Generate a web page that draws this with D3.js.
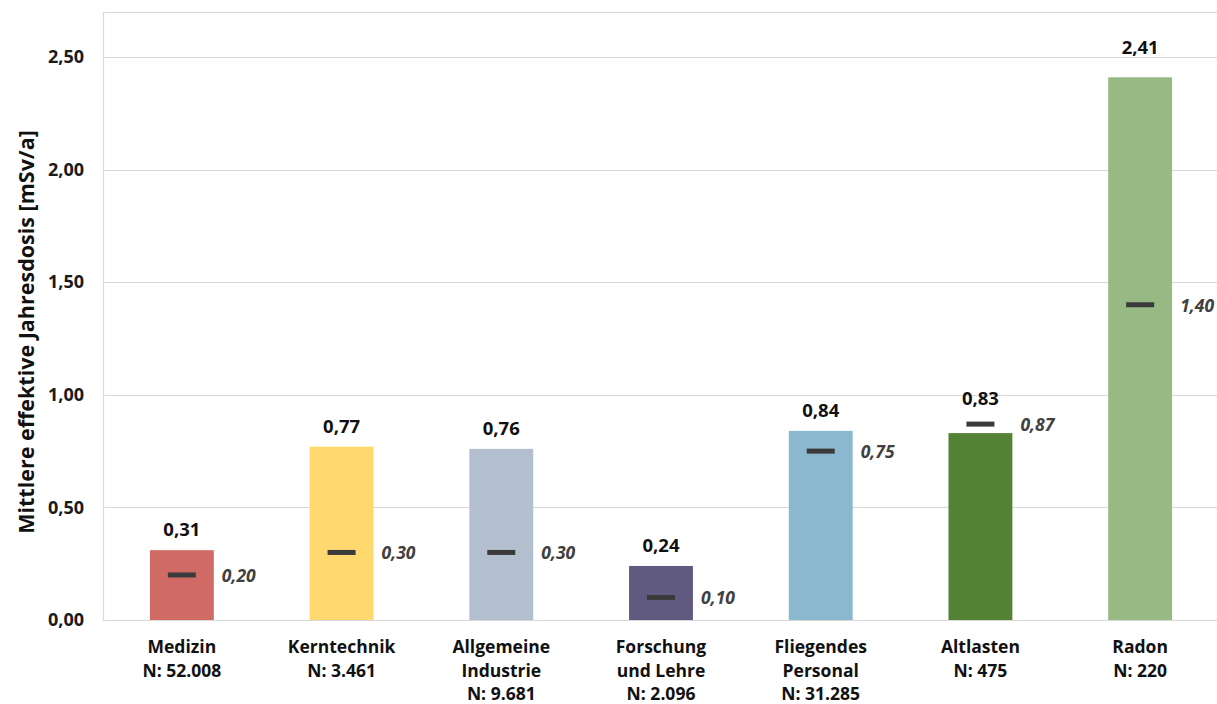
<!DOCTYPE html>
<html>
<head>
<meta charset="utf-8">
<script src="https://cdn.jsdelivr.net/npm/d3@7"></script>
<style>
  html, body { margin: 0; padding: 0; background: #fff; }
  svg { display: block; }
  text { font-family: "Open Sans", "DejaVu Sans", sans-serif; }
</style>
</head>
<body>
<svg id="chart" width="1217" height="704"></svg>
<script>
// ---- data ----
const categories = ["Medizin", "Kerntechnik", "Allgemeine Industrie", "Forschung und Lehre", "Fliegendes Personal", "Altlasten", "Radon"];
const labelLines = [
  ["Medizin", "N: 52.008"],
  ["Kerntechnik", "N: 3.461"],
  ["Allgemeine", "Industrie", "N: 9.681"],
  ["Forschung", "und Lehre", "N: 2.096"],
  ["Fliegendes", "Personal", "N: 31.285"],
  ["Altlasten", "N: 475"],
  ["Radon", "N: 220"]
];
const meanValues = [0.31, 0.77, 0.76, 0.24, 0.84, 0.83, 2.41];
const medianValues = [0.20, 0.30, 0.30, 0.10, 0.75, 0.87, 1.40];
const barColors = ["#CF6B64", "#FFD86F", "#B3BFCE", "#605A80", "#8AB8CF", "#548235", "#97BA84"];
const yTicks = [0, 0.5, 1.0, 1.5, 2.0, 2.5];
const yTitle = "Mittlere effektive Jahresdosis [mSv/a]";

// ---- layout ----
const svg = d3.select("#chart");
const plot = { left: 103, top: 12, right: 1220, bottom: 620 };
const fmt = v => d3.format(".2f")(v).replace(".", ",");

const x = d3.scaleBand().domain(categories).range([102, 1220]).padding(0);
const y = d3.scaleLinear().domain([0, 2.7]).range([plot.bottom, plot.top]);
const barW = x.bandwidth() * 0.4;
const markW = 28, markH = 5;

// gridlines
svg.append("g").selectAll("line").data(yTicks).join("line")
  .attr("x1", plot.left).attr("x2", 1217)
  .attr("y1", d => Math.round(y(d)) + 0.5).attr("y2", d => Math.round(y(d)) + 0.5)
  .attr("stroke", "#d9d9d9").attr("stroke-width", 1.2);

// frame (left + top)
svg.append("line").attr("x1", plot.left + 0.5).attr("x2", plot.left + 0.5)
  .attr("y1", plot.top).attr("y2", plot.bottom).attr("stroke", "#d9d9d9").attr("stroke-width", 1.2);
svg.append("line").attr("x1", plot.left).attr("x2", 1217)
  .attr("y1", plot.top + 0.5).attr("y2", plot.top + 0.5).attr("stroke", "#d9d9d9").attr("stroke-width", 1.2);

// y axis via d3 axis (labels only)
const yAxis = svg.append("g").attr("transform", `translate(${plot.left},0)`)
  .call(d3.axisLeft(y).tickValues(yTicks).tickFormat(fmt).tickSize(0).tickPadding(19));
yAxis.select(".domain").remove();
yAxis.selectAll("text").attr("font-size", 18).attr("font-weight", 700).attr("fill", "#1a1a1a")
  .attr("font-family", "'Open Sans', sans-serif");

// y title
svg.append("text")
  .attr("transform", `translate(34,332) rotate(-90)`)
  .attr("text-anchor", "middle")
  .attr("font-size", 21.5).attr("font-weight", 700).attr("fill", "#111")
  .text(yTitle);

const data = categories.map((c, i) => ({ c, mean: meanValues[i], median: medianValues[i], color: barColors[i], lines: labelLines[i] }));

// bars
svg.append("g").selectAll("rect").data(data).join("rect")
  .attr("x", d => x(d.c) + (x.bandwidth() - barW) / 2)
  .attr("width", barW)
  .attr("y", d => y(d.mean))
  .attr("height", d => y(0) - y(d.mean))
  .attr("fill", d => d.color);

// median markers
svg.append("g").selectAll("rect").data(data).join("rect")
  .attr("x", d => x(d.c) + x.bandwidth() / 2 - markW / 2)
  .attr("y", d => y(d.median) - markH / 2)
  .attr("width", markW).attr("height", markH)
  .attr("fill", "#3a3a3a");

// median labels
svg.append("g").selectAll("text").data(data).join("text")
  .attr("x", d => x(d.c) + x.bandwidth() / 2 + 40)
  .attr("y", d => y(d.median) + 7)
  .attr("font-size", 17.5).attr("font-weight", 700).attr("font-style", "italic")
  .attr("fill", "#404040")
  .text(d => fmt(d.median));

// mean value labels
const nudge = { "Radon": -9, "Altlasten": -3 };
svg.append("g").selectAll("text").data(data).join("text")
  .attr("x", d => x(d.c) + x.bandwidth() / 2)
  .attr("y", d => Math.min(y(d.mean), y(d.median) - markH / 2) - 14 + (nudge[d.c] || 0))
  .attr("text-anchor", "middle")
  .attr("font-size", 18.5).attr("font-weight", 700).attr("fill", "#111")
  .text(d => fmt(d.mean));

// category labels
const cat = svg.append("g").selectAll("text").data(data).join("text")
  .attr("x", d => x(d.c) + x.bandwidth() / 2)
  .attr("y", 653)
  .attr("text-anchor", "middle")
  .attr("font-size", 17.5).attr("font-weight", 700).attr("fill", "#111");
cat.selectAll("tspan").data(d => d.lines.map(l => ({ l, cx: x(d.c) + x.bandwidth() / 2 }))).join("tspan")
  .attr("x", t => t.cx)
  .attr("dy", (t, i) => i === 0 ? 0 : 23.5)
  .text(t => t.l);
</script>
</body>
</html>
